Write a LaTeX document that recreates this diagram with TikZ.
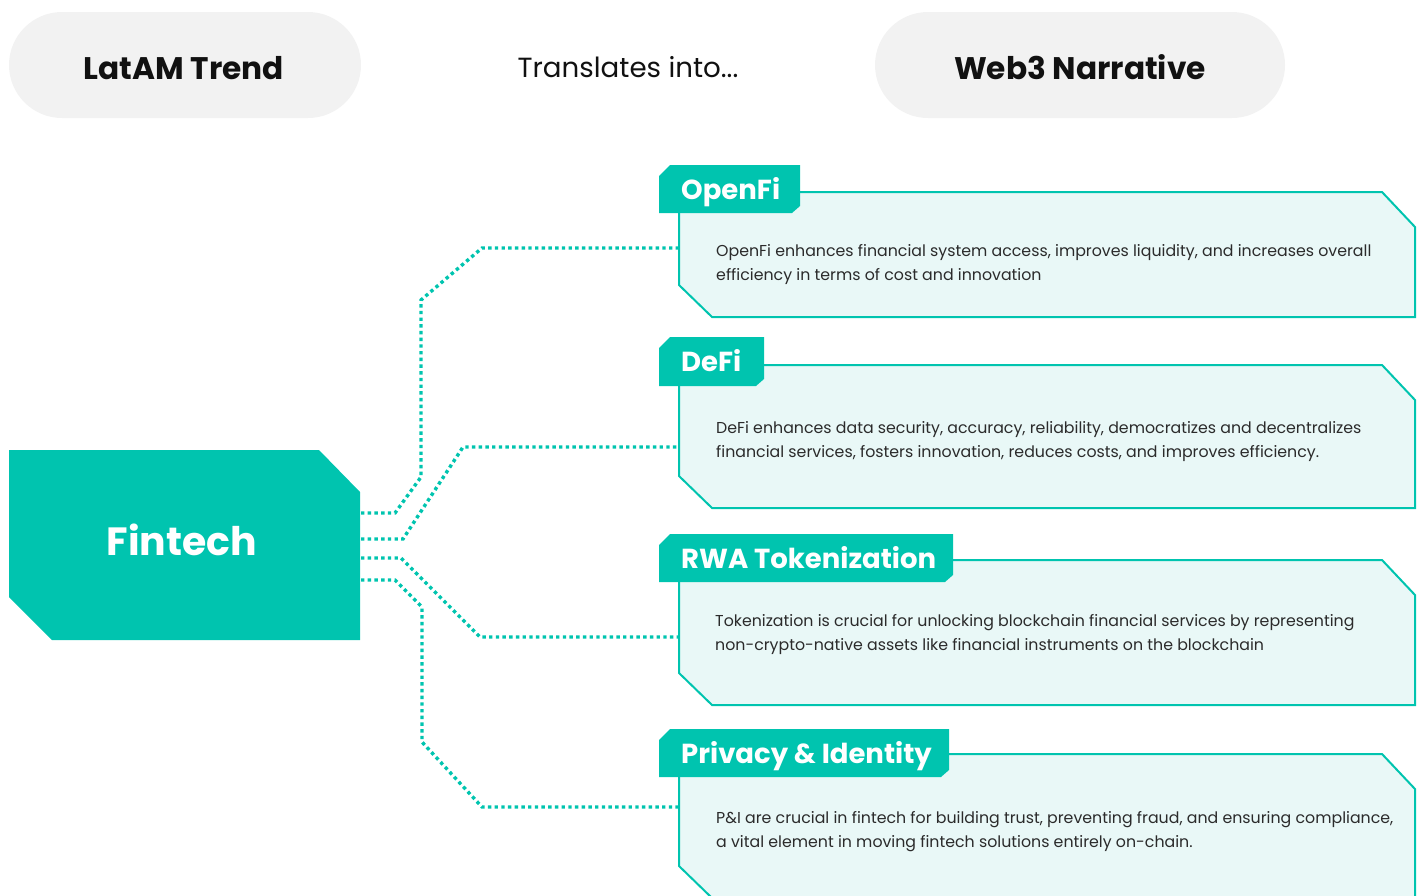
\documentclass[tikz,border=0pt]{standalone}
\usepackage{fontspec}
\setmainfont{Poppins}
\usetikzlibrary{calc}
\definecolor{teal1}{HTML}{00C4AF}
\definecolor{boxfill}{HTML}{E9F8F7}
\definecolor{pillgray}{HTML}{F2F2F2}
\definecolor{ink}{HTML}{111111}
\definecolor{bodyink}{HTML}{2B2B2B}
\newcommand\narrbox[7]{%
  % #1 name, #2 tab top, #3 tab bottom, #4 tab right, #5 box top, #6 box bottom, #7 title
  \fill[boxfill] (679,#5) -- (1382,#5) -- (1415,{#5+35}) -- (1415,#6) -- (712,#6) -- (679,{#6-32}) -- cycle;
  \draw[boxline] (#4,#5) -- (1382,#5) -- (1415,{#5+35}) -- (1415,#6) -- (712,#6) -- (679,{#6-32}) -- (679,#3);
  \fill[tabfill] (659,{#2+11}) -- (670,#2) -- (#4,#2) -- (#4,{#3-7}) -- ({#4-8},#3) -- (659,#3) -- cycle;
  \node[tabtext] (#1-title) at (681,{(#2+#3)/2+10}) {#7};
}
\begin{document}
\begin{tikzpicture}[x=1pt,y=-1pt,
  pill/.style={fill=pillgray, rounded corners=53pt, minimum height=106pt, inner sep=0pt},
  hdr/.style={font=\fontsize{31.2}{36}\selectfont\bfseries, text=ink, anchor=base, inner sep=0pt},
  conn/.style={draw=teal1, line width=3.4pt, dash pattern=on 3.4pt off 3.3pt},
  boxline/.style={draw=teal1, line width=2pt, line join=miter},
  tabfill/.style={fill=teal1},
  tabtext/.style={font=\fontsize{27.5}{32}\selectfont\bfseries, text=white, anchor=base west, inner sep=0pt},
  bodytext/.style={font=\fontsize{15.8}{24}\selectfont, text=bodyink, align=left, anchor=west, inner sep=0pt},
]
\useasboundingbox (0,0) rectangle (1423,895);
\begin{scope}
\clip (0,0) rectangle (1423,895);
% header
\node[pill, minimum width=352pt] (latamPill) at (185,65) {};
\node[pill, minimum width=410pt] (webPill) at (1080,65) {};
\node[hdr] (latam) at (184,79) {LatAM Trend};
\node[hdr] (web) at (1080,79) {Web3 Narrative};
\node[font=\fontsize{27.7}{32}\selectfont, text=ink, anchor=base, inner sep=0pt] (trans) at (628,77) {Translates into...};

% fintech
\fill[teal1] (9,450) -- (319,450) -- (360,492) -- (360,640) -- (52,640) -- (9,597) -- cycle;
\node[font=\fontsize{39.4}{46}\selectfont\bfseries, text=white, anchor=base, inner sep=0pt] (fin) at (182,555) {Fintech};

% boxes
\narrbox{openfi}{165}{213}{800}{192}{317}{OpenFi}
\narrbox{defi}{337}{386}{764}{365}{508}{DeFi}
\narrbox{rwa}{534}{582}{953}{560}{705}{RWA Tokenization}
\narrbox{priv}{729}{777}{949}{754}{898}{Privacy \& Identity}

\node[bodytext] (openfi-body) at (716,264) {OpenFi enhances financial system access, improves liquidity, and increases overall\\efficiency in terms of cost and innovation};
\node[bodytext] (defi-body) at (716,442) {DeFi enhances data security, accuracy, reliability, democratizes and decentralizes\\financial services, fosters innovation, reduces costs, and improves efficiency.};
\node[bodytext] (rwa-body) at (715,635) {Tokenization is crucial for unlocking blockchain financial services by representing\\non-crypto-native assets like financial instruments on the blockchain};
\node[bodytext] (priv-body) at (716,832) {P\&I are crucial in fintech for building trust, preventing fraud, and ensuring compliance,\\a vital element in moving fintech solutions entirely on-chain.};

% connector ends
\coordinate (f1) at (361,513);
\coordinate (f2) at (361,539);
\coordinate (f3) at (361,558);
\coordinate (f4) at (361,580);
\coordinate (openfi-in) at (678,248);
\coordinate (defi-in) at (678,447);
\coordinate (rwa-in) at (678,637);
\coordinate (priv-in) at (678,807);

\draw[conn] (f1) -- (395,513) -- (421,477) -- (421,300) -- (482,248) -- (openfi-in);
\draw[conn] (f2) -- (403,539) -- (463,447) -- (defi-in);
\draw[conn] (f3) -- (401,558) -- (480,637) -- (rwa-in);
\draw[conn] (f4) -- (395,580) -- (422,607) -- (422,742) -- (482,807) -- (priv-in);
\end{scope}
\end{tikzpicture}
\end{document}
